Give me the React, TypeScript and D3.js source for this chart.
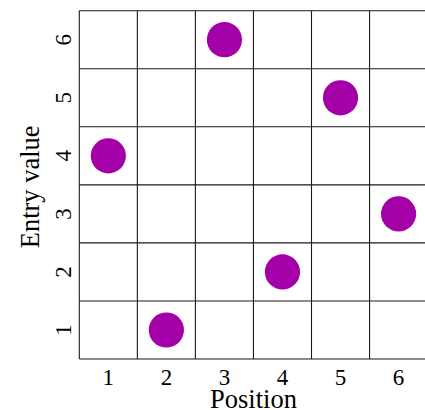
import * as d3 from "d3";
import { useEffect, useRef } from "react";

const positions = [1, 2, 3, 4, 5, 6];
const entryValues = [4, 1, 6, 2, 5, 3];
const tickLabels = ["1", "2", "3", "4", "5", "6"];

const Chart = ({ width = 425, height = 410 }) => {
  const ref = useRef<SVGSVGElement | null>(null);

  useEffect(() => {
    if (!ref.current) return;

    const margin = { left: 79.3, right: 427.6, top: 10.7, bottom: 359 };
    const x = d3.scaleLinear().domain([0.5, 6.5]).range([margin.left, margin.right]);
    const y = d3.scaleLinear().domain([0.5, 6.5]).range([margin.bottom, margin.top]);

    const svg = d3.select(ref.current);
    svg.selectAll("*").remove();

    const font = "'Liberation Serif', 'Times New Roman', serif";
    const bounds = d3.range(0.5, 7, 1);

    // grid
    const grid = svg.append("g").attr("stroke", "#1a1a1a").attr("stroke-width", 1.1);
    grid
      .selectAll("line.v")
      .data(bounds)
      .join("line")
      .attr("class", "v")
      .attr("x1", (d) => x(d))
      .attr("x2", (d) => x(d))
      .attr("y1", margin.top)
      .attr("y2", margin.bottom);
    grid
      .selectAll("line.h")
      .data(bounds)
      .join("line")
      .attr("class", "h")
      .attr("y1", (d) => y(d))
      .attr("y2", (d) => y(d))
      .attr("x1", margin.left)
      .attr("x2", margin.right);

    // points
    svg
      .append("g")
      .selectAll("circle")
      .data(positions.map((p, i) => ({ p, v: entryValues[i] })))
      .join("circle")
      .attr("cx", (d) => x(d.p))
      .attr("cy", (d) => y(d.v))
      .attr("r", 17.6)
      .attr("fill", "#a300a8");

    // x ticks
    svg
      .append("g")
      .selectAll("text")
      .data(positions)
      .join("text")
      .attr("x", (d) => x(d))
      .attr("y", 385)
      .attr("text-anchor", "middle")
      .attr("font-family", font)
      .attr("font-size", 23)
      .text((d, i) => tickLabels[i]);

    // y ticks (rotated)
    svg
      .append("g")
      .selectAll("text")
      .data(positions)
      .join("text")
      .attr("transform", (d) => `translate(70.7,${y(d)}) rotate(-90)`)
      .attr("text-anchor", "middle")
      .attr("font-family", font)
      .attr("font-size", 23)
      .text((d, i) => tickLabels[i]);

    // axis titles
    svg
      .append("text")
      .attr("x", (margin.left + margin.right) / 2)
      .attr("y", 408)
      .attr("text-anchor", "middle")
      .attr("font-family", font)
      .attr("font-size", 26.5)
      .text("Position");

    svg
      .append("text")
      .attr("transform", `translate(38.5,${(margin.top + margin.bottom) / 2 + 2}) rotate(-90)`)
      .attr("text-anchor", "middle")
      .attr("font-family", font)
      .attr("font-size", 26.5)
      .text("Entry value");
  }, [width, height]);

  return <svg ref={ref} width={width} height={height} style={{ display: "block" }} />;
};

export default function App() {
  return (
    <div style={{ position: "absolute", left: 0, top: 0, background: "white" }}>
      <Chart />
    </div>
  );
}
